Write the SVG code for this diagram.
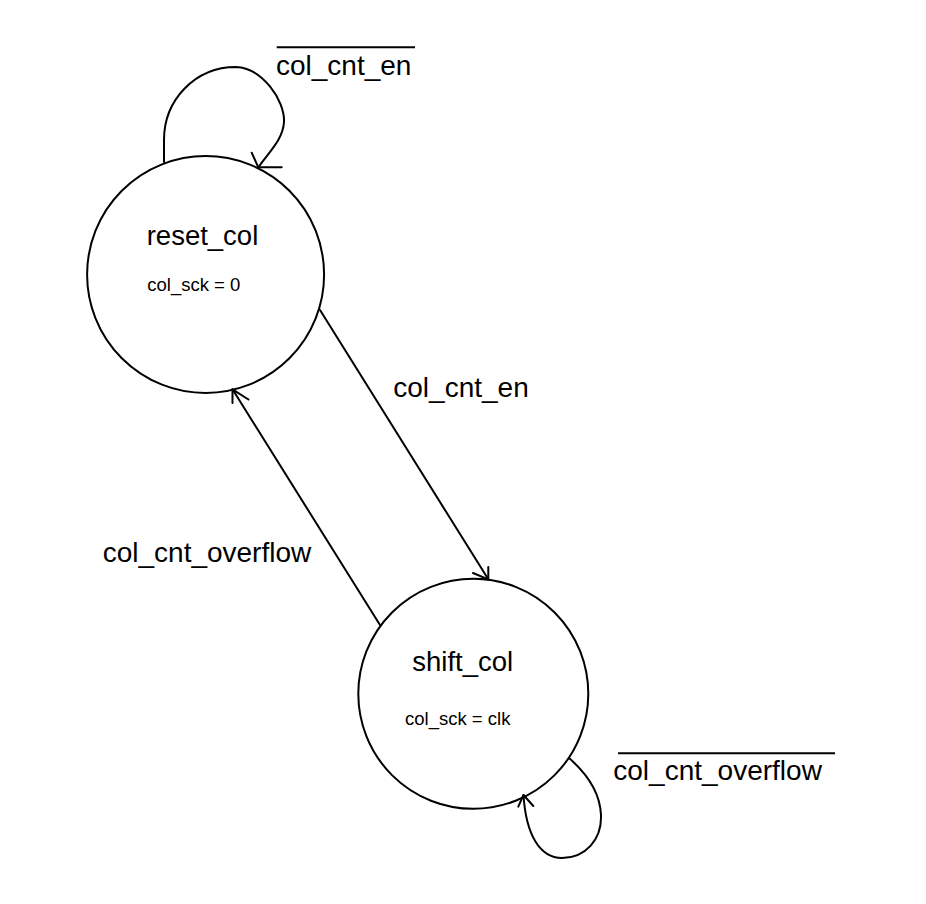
<svg xmlns="http://www.w3.org/2000/svg" width="926" height="904" viewBox="0 0 926 904">
<style>
.st{fill:#fff;stroke:#000;stroke-width:2}
.ln{fill:none;stroke:#000;stroke-width:2;stroke-linecap:round;stroke-linejoin:round}
.nm{font-family:"Liberation Sans",Arial,sans-serif;font-size:27.5px;fill:#000}
.sub{font-family:"Liberation Sans",Arial,sans-serif;font-size:18.5px;fill:#000}
.lb{font-family:"Liberation Sans",Arial,sans-serif;font-size:28px;fill:#000}
.ov{stroke:#000;stroke-width:2}
</style>
<rect width="926" height="904" fill="#fff"/>
<g id="reset_col">
<circle class="st" cx="205.6" cy="274.5" r="118.5"/>
<text class="nm" x="146.7" y="245">reset_col</text>
<text class="sub" x="147.3" y="290.7">col_sck = 0</text>
</g>
<g id="shift_col">
<circle class="st" cx="473.3" cy="693.8" r="115"/>
<text class="nm" x="412.3" y="670.7">shift_col</text>
<text class="sub" x="405" y="725">col_sck = clk</text>
</g>
<g id="connectors">
<path class="ln" d="M164,162 L164,140 C164,100 195,67 236,67 C262,68 285,100 284,122 C283,140 268,153 258.3,167.3"/>
<path class="ln" d="M251.7,152.7 L258.3,167.3 L281.7,167.3"/>
<path class="ln" d="M320,310 L488.3,579.3"/>
<path class="ln" d="M488.3,567 L488.3,579.3 L473,573"/>
<path class="ln" d="M380,625 L232.5,389.3"/>
<path class="ln" d="M232.5,403 L232.5,389.3 L248.5,399.5"/>
<path class="ln" d="M569,758 C585,772 600,790 601,815 C602,840 585,858 562,858 C540,858 526,835 523.5,795"/>
<path class="ln" d="M518.3,806.7 L523.5,795 L533.3,806"/>
</g>
<g id="labels">
<line class="ov" x1="276.7" y1="47.3" x2="415" y2="47.3"/>
<text class="lb" x="276" y="75">col_cnt_en</text>
<text class="lb" x="393.3" y="396.7">col_cnt_en</text>
<text class="lb" x="102.7" y="561.7">col_cnt_overflow</text>
<line class="ov" x1="618" y1="753.3" x2="835" y2="753.3"/>
<text class="lb" x="613.3" y="780">col_cnt_overflow</text>
</g>
</svg>
